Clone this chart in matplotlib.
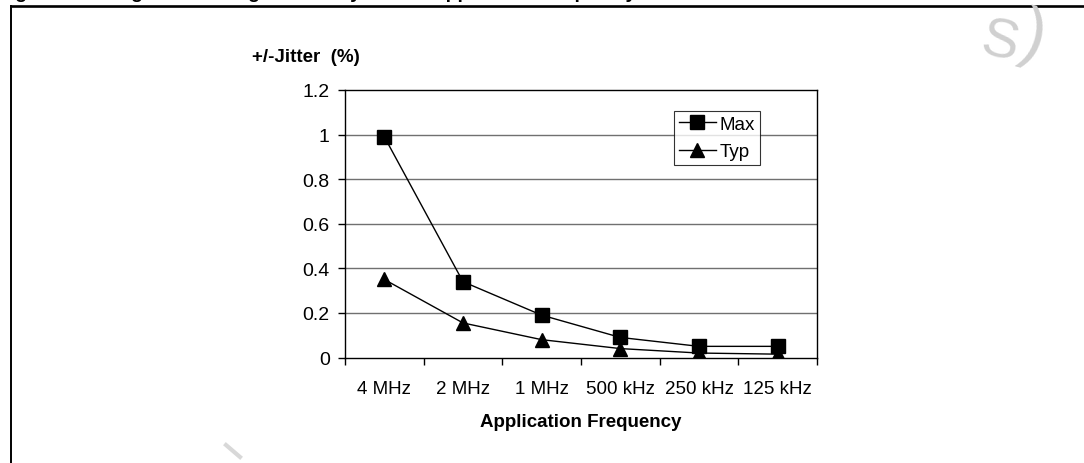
import matplotlib
matplotlib.use('Agg')
import matplotlib.pyplot as plt
from matplotlib.lines import Line2D

plt.rcParams['font.family'] = ['Liberation Sans', 'DejaVu Sans']

# data
freqs = ['4 MHz', '2 MHz', '1 MHz', '500 kHz', '250 kHz', '125 kHz']
max_jitter = [0.99, 0.34, 0.19, 0.09, 0.05, 0.05]
typ_jitter = [0.35, 0.155, 0.08, 0.04, 0.02, 0.015]
y_ticks = [0, 0.2, 0.4, 0.6, 0.8, 1, 1.2]
y_tick_labels = ['0', '0.2', '0.4', '0.6', '0.8', '1', '1.2']

W, H = 1084, 464
fig = plt.figure(figsize=(W / 100, H / 100), dpi=100)

# outer frame (only top and left edges are visible)
fig.add_artist(Line2D([11 / W, 1], [1 - 6.5 / H, 1 - 6.5 / H], color='black', lw=1.9,
                      transform=fig.transFigure))
fig.add_artist(Line2D([11 / W, 11 / W], [0, 1 - 6.5 / H], color='black', lw=1.4,
                      transform=fig.transFigure))

# caption above the frame, cut off by the top edge like in the source
fig.text(-2 / W, 1 + 1.5 / H, 'Figure 12. Long-term average accuracy versus application frequency',
         fontsize=14, fontweight='bold', ha='left', va='baseline')

# watermark fragments
fig.text(1000 / W, 1 - 44 / H, 'S', fontsize=40, color='#d0d0d0', rotation=-12,
         ha='center', va='center')
fig.text(1033 / W, 1 - 38 / H, ')', fontsize=50, color='#d0d0d0', rotation=-15,
         ha='center', va='center')
fig.add_artist(Line2D([226 / W, 240 / W], [1 - 446 / H, 1 - 458 / H], color='#d8d8d8', lw=3,
                      transform=fig.transFigure))

ax = fig.add_axes([345 / W, 1 - 358.5 / H, (817 - 345) / W, (358.5 - 91) / H])

x = range(len(freqs))
ax.plot(x, max_jitter, color='black', lw=1, marker='s', markersize=9.5, label='Max')
ax.plot(x, typ_jitter, color='black', lw=1, marker='^', markersize=10.5, label='Typ')

ax.set_xlim(-0.5, len(freqs) - 0.5)
ax.set_ylim(0, 1.2)
ax.set_yticks(y_ticks)
ax.set_yticklabels(y_tick_labels)
ax.set_xticks(x)
ax.set_xticklabels(freqs)
ax.set_xticks([i - 0.5 for i in range(len(freqs) + 1)], minor=True)
ax.tick_params(axis='x', which='major', length=0, pad=16, labelsize=13.5)
ax.tick_params(axis='x', which='minor', length=5, width=1, color='black')
ax.tick_params(axis='y', length=5, width=1, pad=6, labelsize=14)

for yv in y_ticks[1:-1]:
    ax.axhline(yv, color='#707070', lw=1, zorder=0)
for s in ax.spines.values():
    s.set_color('black')
    s.set_linewidth(1)

ax.set_xlabel('Application Frequency', fontsize=13.5, fontweight='bold', labelpad=12)
fig.text(252 / W, 1 - 57 / H, '+/-Jitter  (%)', fontsize=13.5, fontweight='bold',
         ha='left', va='center')

leg = ax.legend(loc='upper left', bbox_to_anchor=((674 - 345) / (817 - 345), (358.5 - 112) / (358.5 - 91)),
                fontsize=13.5, frameon=True, fancybox=False, edgecolor='black',
                handlelength=2.0, handletextpad=0.2, borderpad=0.25, labelspacing=0.55,
                borderaxespad=0)
leg.get_frame().set_linewidth(0.8)

fig.savefig('out.png', dpi=100)
